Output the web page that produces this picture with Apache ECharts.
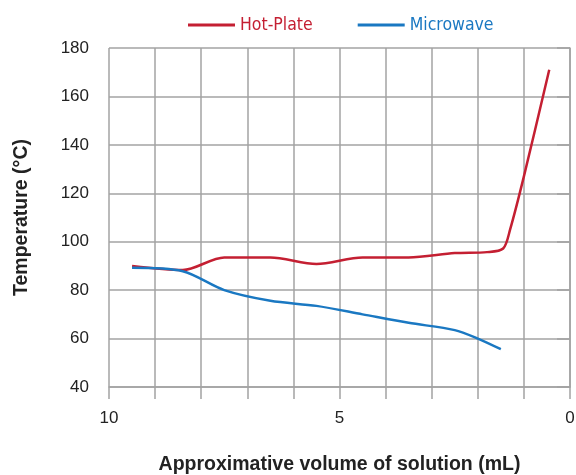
<!DOCTYPE html>
<html>
<head>
<meta charset="utf-8">
<script src="https://cdn.jsdelivr.net/npm/echarts@6/dist/echarts.min.js"></script>
<style>
  html, body { margin: 0; padding: 0; background: #fff; }
  #chart { width: 576px; height: 475px; }
</style>
</head>
<body>
<div id="chart"></div>
<script>
// Volume (mL) vs temperature (°C) readings for each heating method
const hotPlateVolume = [9.5, 8.4, 7.5, 6.5, 5.5, 4.5, 3.5, 2.5, 1.8, 1.45, 1.3, 1.0, 0.45];
const hotPlateTemp   = [90, 88.3, 93.5, 93.5, 90.8, 93.5, 93.5, 95.3, 95.7, 97.2, 105, 127, 171];

const microwaveVolume = [9.5, 8.4, 7.5, 6.5, 5.5, 4.5, 3.5, 2.5, 2.0, 1.5];
const microwaveTemp   = [89.2, 87.8, 80, 75.6, 73.5, 70, 66.5, 63.5, 60, 55.6];

const xTickLabels = [10, 5, 0];

const RED = '#c41f32';
const BLUE = '#1a78c2';
const GRID = '#a3a3a3';

const pair = (xs, ys) => xs.map((x, i) => [x, ys[i]]);

const chart = echarts.init(document.getElementById('chart'));
chart.setOption({
  animation: false,
  legend: {
    top: 11,
    left: 183,
    icon: 'rect',
    itemWidth: 47,
    itemHeight: 3,
    itemGap: 45,
    textStyle: { fontFamily: '"DejaVu Sans Condensed", "Liberation Sans"', fontSize: 17.5 },
    data: [
      { name: 'Hot-Plate', textStyle: { color: RED } },
      { name: 'Microwave', textStyle: { color: BLUE } }
    ]
  },
  grid: { left: 109, right: 6, top: 48, bottom: 88, outerBoundsMode: 'none' },
  xAxis: {
    type: 'value',
    inverse: true,
    min: 0,
    max: 10,
    interval: 1,
    name: 'Approximative volume of solution (mL)',
    nameLocation: 'middle',
    nameGap: 68,
    nameTextStyle: { fontFamily: 'Liberation Sans', fontWeight: 'bold', fontSize: 19.5, color: '#222' },
    axisLine: { lineStyle: { color: GRID, width: 1.5 } },
    axisTick: { length: 12, lineStyle: { color: GRID, width: 1.5 } },
    axisLabel: {
      margin: 23,
      fontFamily: 'Liberation Sans', fontSize: 17, color: '#222',
      formatter: v => (xTickLabels.includes(v) ? String(v) : '')
    },
    splitLine: { show: true, lineStyle: { color: GRID, width: 1.5 } }
  },
  yAxis: {
    type: 'value',
    min: 40,
    max: 180,
    interval: 20,
    name: 'Temperature (°C)',
    nameLocation: 'middle',
    nameGap: 77,
    nameTextStyle: { fontFamily: 'Liberation Sans', fontWeight: 'bold', fontSize: 19.5, color: '#222' },
    axisLine: { show: true, lineStyle: { color: GRID, width: 1.5 } },
    axisTick: { show: true, length: 13, lineStyle: { color: GRID, width: 1.5 } },
    axisLabel: { margin: 20, fontFamily: 'Liberation Sans', fontSize: 17, color: '#222' },
    splitLine: { show: true, lineStyle: { color: GRID, width: 1.5 } }
  },
  series: [
    {
      name: 'Hot-Plate',
      type: 'line',
      data: pair(hotPlateVolume, hotPlateTemp),
      smooth: 0.3,
      symbol: 'none',
      lineStyle: { color: RED, width: 2.5 },
      itemStyle: { color: RED }
    },
    {
      name: 'Microwave',
      type: 'line',
      data: pair(microwaveVolume, microwaveTemp),
      smooth: 0.3,
      symbol: 'none',
      lineStyle: { color: BLUE, width: 2.5 },
      itemStyle: { color: BLUE }
    }
  ]
});
</script>
</body>
</html>
